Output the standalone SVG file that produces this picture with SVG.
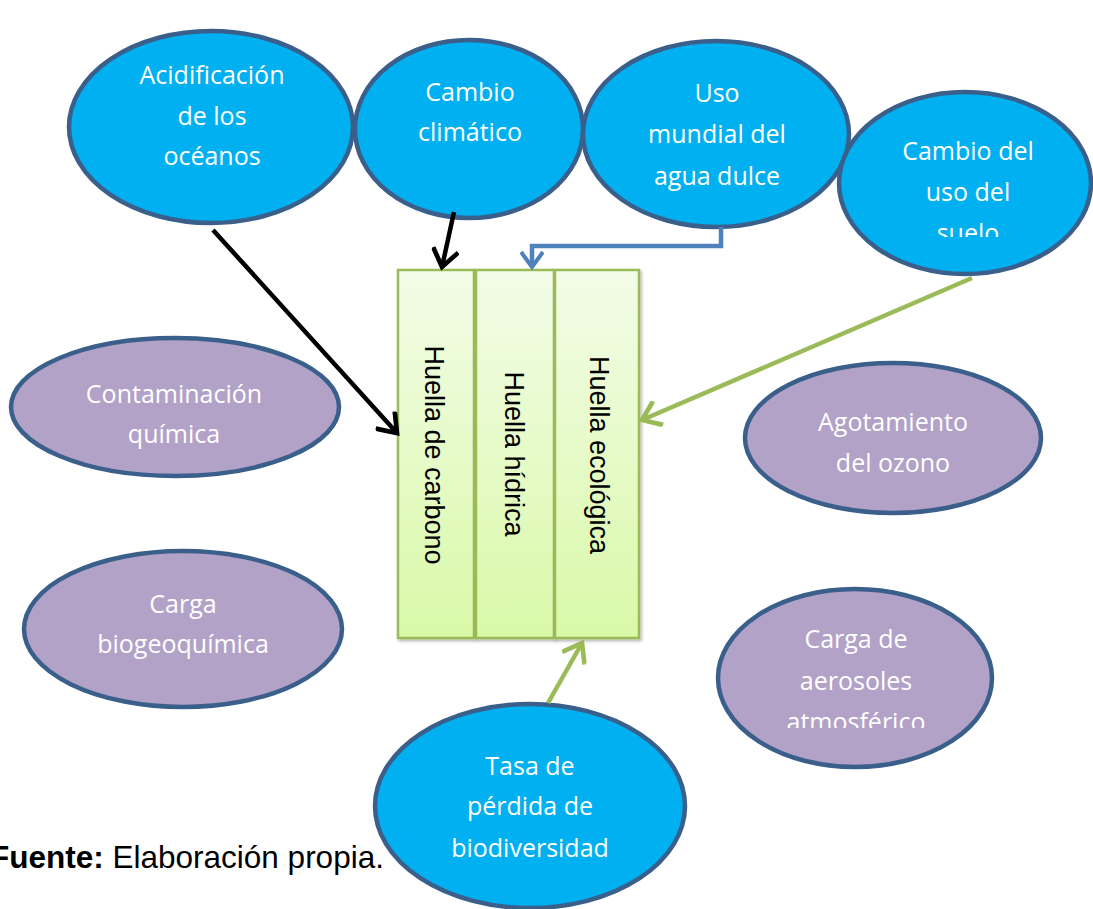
<svg xmlns="http://www.w3.org/2000/svg" width="1093" height="909" viewBox="0 0 1093 909">
<style>
.blue{fill:#00B0F0;stroke:#3A5F8B;stroke-width:4.5}
.purple{fill:#B2A2C7;stroke:#3A5F8B;stroke-width:4.5}
.lbl{font-family:"Open Sans","Noto Sans",sans-serif;font-size:25px;fill:#fff;text-anchor:middle}
.col{fill:url(#gcol);stroke:#9BBB59;stroke-width:2.5}
.vt{font-family:"Liberation Sans",Arial,sans-serif;font-size:27px;fill:#000;text-anchor:middle}
.cap{font-family:"Liberation Sans",Arial,sans-serif;font-size:31.5px;fill:#000}
.ln{fill:none;stroke-width:4.5}
</style>
<defs>
<linearGradient id="gcol" x1="0" y1="0" x2="0" y2="1">
<stop offset="0" stop-color="#F3FCE8"/>
<stop offset="1" stop-color="#D9F9A8"/>
</linearGradient>
<filter id="sh" x="-20%" y="-10%" width="140%" height="120%">
<feDropShadow dx="1.5" dy="2" stdDeviation="1.5" flood-color="#000" flood-opacity="0.3"/>
</filter>
<marker id="mk" viewBox="-2 -2 24 24" refX="18" refY="10" markerWidth="28" markerHeight="28" markerUnits="userSpaceOnUse" orient="auto">
<path d="M3,-1 L18,10 L3,21" fill="none" stroke="#000" stroke-width="4"/>
</marker>
<marker id="mb" viewBox="-2 -2 24 24" refX="18" refY="10" markerWidth="24" markerHeight="24" markerUnits="userSpaceOnUse" orient="auto">
<path d="M3,-1 L18,10 L3,21" fill="none" stroke="#4F81BD" stroke-width="4"/>
</marker>
<marker id="mg" viewBox="-2 -2 24 24" refX="18" refY="10" markerWidth="28" markerHeight="28" markerUnits="userSpaceOnUse" orient="auto">
<path d="M3,-1 L18,10 L3,21" fill="none" stroke="#9BBB59" stroke-width="4"/>
</marker>
<clipPath id="clip4"><rect x="838" y="90" width="255" height="147"/></clipPath>
<clipPath id="clip9"><rect x="700" y="590" width="300" height="138"/></clipPath>
</defs>
<rect width="1093" height="909" fill="#fff"/>

<g id="n-acidificacion">
<ellipse class="blue" cx="211" cy="127" rx="142" ry="96"/>
<text class="lbl"><tspan x="212" y="84">Acidificación</tspan><tspan x="212" y="125">de los</tspan><tspan x="212" y="165">océanos</tspan></text>
</g>
<g id="n-cambio-climatico">
<ellipse class="blue" cx="469" cy="129" rx="114" ry="89"/>
<text class="lbl"><tspan x="470" y="101">Cambio</tspan><tspan x="470" y="141">climático</tspan></text>
</g>
<g id="n-uso-agua">
<ellipse class="blue" cx="716" cy="134" rx="133" ry="93"/>
<text class="lbl"><tspan x="717" y="102">Uso</tspan><tspan x="717" y="143">mundial del</tspan><tspan x="717" y="185">agua dulce</tspan></text>
</g>
<g id="n-uso-suelo">
<ellipse class="blue" cx="965" cy="183" rx="126" ry="91"/>
<text class="lbl" clip-path="url(#clip4)"><tspan x="968" y="160">Cambio del</tspan><tspan x="968" y="201">uso del</tspan><tspan x="968" y="242">suelo</tspan></text>
</g>
<g id="n-contaminacion">
<ellipse class="purple" cx="175" cy="407" rx="164" ry="69"/>
<text class="lbl"><tspan x="174" y="403">Contaminación</tspan><tspan x="174" y="443">química</tspan></text>
</g>
<g id="n-biogeoquimica">
<ellipse class="purple" cx="183" cy="629" rx="159" ry="78"/>
<text class="lbl"><tspan x="183" y="613">Carga</tspan><tspan x="183" y="653">biogeoquímica</tspan></text>
</g>
<g id="n-ozono">
<ellipse class="purple" cx="893" cy="438" rx="148" ry="75"/>
<text class="lbl"><tspan x="893" y="431">Agotamiento</tspan><tspan x="893" y="472">del ozono</tspan></text>
</g>
<g id="n-aerosoles">
<ellipse class="purple" cx="855" cy="678" rx="137" ry="89"/>
<text class="lbl" clip-path="url(#clip9)"><tspan x="856" y="648">Carga de</tspan><tspan x="856" y="690">aerosoles</tspan><tspan x="856" y="731">atmosférico</tspan></text>
</g>
<g id="n-biodiversidad">
<ellipse class="blue" cx="530" cy="806" rx="155" ry="102"/>
<text class="lbl"><tspan x="530" y="775">Tasa de</tspan><tspan x="530" y="815">pérdida de</tspan><tspan x="530" y="857">biodiversidad</tspan></text>
</g>

<g id="n-huella-carbono">
<rect class="col" filter="url(#sh)" x="398" y="270" width="76" height="368"/>
<text class="vt" transform="translate(425,455) rotate(90)">Huella de carbono</text>
</g>
<g id="n-huella-hidrica">
<rect class="col" filter="url(#sh)" x="476" y="270" width="78" height="368"/>
<text class="vt" transform="translate(505,454) rotate(90)">Huella hídrica</text>
</g>
<g id="n-huella-ecologica">
<rect class="col" filter="url(#sh)" x="555" y="270" width="84" height="368"/>
<text class="vt" transform="translate(590,455) rotate(90)">Huella ecológica</text>
</g>

<g id="connectors">
<line class="ln" x1="213" y1="230" x2="397" y2="433" stroke="#000" marker-end="url(#mk)"/>
<line class="ln" x1="454" y1="212" x2="442" y2="267" stroke="#000" marker-end="url(#mk)"/>
<polyline class="ln" points="721,227 721,246 532,246 532,267" stroke="#4F81BD" stroke-width="4" marker-end="url(#mb)"/>
<line class="ln" x1="972" y1="278" x2="642" y2="420" stroke="#9BBB59" marker-end="url(#mg)"/>
<line class="ln" x1="548" y1="703" x2="582" y2="643" stroke="#9BBB59" marker-end="url(#mg)"/>
</g>

<text class="cap" x="-10" y="868"><tspan font-weight="bold">Fuente:</tspan> Elaboración propia.</text>
</svg>
